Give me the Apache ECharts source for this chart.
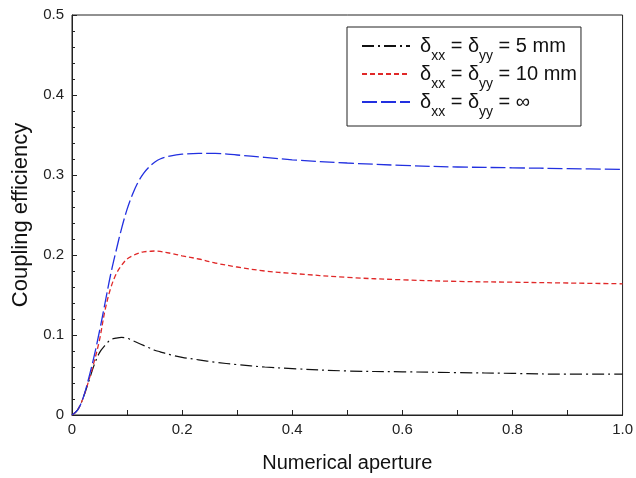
<!DOCTYPE html>
<html>
<head>
<meta charset="utf-8">
<script src="https://cdn.jsdelivr.net/npm/echarts@6/dist/echarts.min.js"></script>
<style>
  html, body { margin: 0; padding: 0; background: #fff; }
  #chart { width: 636px; height: 478px; }
</style>
</head>
<body>
<div id="chart"></div>
<script>
// Numerical aperture sample points shared by all curves
var apertures = [0, 0.01, 0.02, 0.03, 0.04, 0.05, 0.06, 0.07, 0.08, 0.09, 0.10,
                 0.11, 0.12, 0.13, 0.14, 0.15, 0.16, 0.18, 0.20, 0.23, 0.26,
                 0.30, 0.35, 0.40, 0.50, 0.60, 0.70, 0.80, 0.90, 1.00];

// Coupling efficiency for each misalignment tolerance
var eff5mm  = [0, 0.006, 0.021, 0.041, 0.062, 0.078, 0.087, 0.094, 0.096, 0.097, 0.096,
               0.093, 0.090, 0.087, 0.084, 0.081, 0.079, 0.075, 0.072, 0.069, 0.066,
               0.063, 0.060, 0.058, 0.055, 0.054, 0.053, 0.052, 0.051, 0.051];
var eff10mm = [0, 0.006, 0.021, 0.042, 0.066, 0.094, 0.131, 0.158, 0.176, 0.187, 0.195,
               0.199, 0.202, 0.204, 0.2045, 0.205, 0.2045, 0.202, 0.199, 0.195, 0.190,
               0.185, 0.180, 0.177, 0.172, 0.169, 0.167, 0.166, 0.165, 0.164];
var effInf  = [0, 0.006, 0.021, 0.045, 0.073, 0.105, 0.140, 0.175, 0.205, 0.233, 0.257,
               0.276, 0.291, 0.302, 0.310, 0.316, 0.320, 0.324, 0.326, 0.327, 0.327,
               0.325, 0.322, 0.319, 0.315, 0.312, 0.310, 0.309, 0.308, 0.307];

var seriesNames = ['5 mm', '10 mm', 'inf'];
var legendTails = ['5 mm', '10 mm', '\u221E'];

function pairs(xs, ys) {
  return xs.map(function (x, i) { return [x, ys[i]]; });
}

var FONT = 'Liberation Sans, Arial, sans-serif';

var chart = echarts.init(document.getElementById('chart'), null, { renderer: 'canvas' });

chart.setOption({
  animation: false,
  backgroundColor: '#fff',
  grid: {
    left: 72, right: 11, top: 15, bottom: 59,
    show: true, borderColor: '#222', borderWidth: 1
  },
  xAxis: {
    type: 'value', min: 0, max: 1, interval: 0.2,
    name: 'Numerical aperture', nameLocation: 'middle', nameGap: 38,
    nameTextStyle: { fontFamily: FONT, fontSize: 20, color: '#111' },
    axisLine: { lineStyle: { color: '#222', width: 1 } },
    axisTick: { inside: true, length: 5, lineStyle: { color: '#222' } },
    minorTick: { show: true, splitNumber: 2, length: 5, lineStyle: { color: '#222' } },
    splitLine: { show: false },
    axisLabel: {
      fontFamily: FONT, fontSize: 15, color: '#222', margin: 7,
      formatter: function (v) { return v === 0 ? '0' : v.toFixed(1); }
    }
  },
  yAxis: {
    type: 'value', min: 0, max: 0.5, interval: 0.1,
    name: 'Coupling efficiency', nameLocation: 'middle', nameGap: 33,
    nameTextStyle: { fontFamily: FONT, fontSize: 22, color: '#111' },
    axisLine: { show: true, lineStyle: { color: '#222', width: 1 } },
    axisTick: { inside: true, length: 5, lineStyle: { color: '#222' } },
    minorTick: { show: true, splitNumber: 5, length: 3, lineStyle: { color: '#222' } },
    splitLine: { show: false },
    axisLabel: {
      fontFamily: FONT, fontSize: 15, color: '#222', margin: 8,
      formatter: function (v) { return v === 0 ? '0' : v.toFixed(1); }
    }
  },
  legend: {
    orient: 'vertical',
    left: 347, top: 27,
    padding: [2, 4, 7, 14],
    itemGap: -6,
    itemWidth: 48, itemHeight: 14,
    borderColor: '#222', borderWidth: 1,
    itemStyle: { opacity: 0 },
    data: seriesNames,
    formatter: function (name) {
      var tail = legendTails[seriesNames.indexOf(name)];
      return '{f|\u03B4}{s|xx}{d| = \u03B4}{s|yy}{d| = ' + tail + '}';
    },
    textStyle: {
      fontFamily: FONT, color: '#111',
      rich: {
        f: { fontFamily: FONT, fontSize: 20, color: '#111', lineHeight: 20, padding: [0, 0, 0, 5] },
        d: { fontFamily: FONT, fontSize: 20, color: '#111', lineHeight: 20 },
        s: { fontFamily: FONT, fontSize: 14, color: '#111', lineHeight: 8, padding: [20, 0, 0, 0] }
      }
    }
  },
  series: [
    {
      name: seriesNames[0], type: 'line', smooth: 0.35, symbol: 'none',
      data: pairs(apertures, eff5mm),
      lineStyle: { color: '#111', width: 1.2, type: [12, 4, 2, 4] },
      itemStyle: { color: '#111' }
    },
    {
      name: seriesNames[1], type: 'line', smooth: 0.35, symbol: 'none',
      data: pairs(apertures, eff10mm),
      lineStyle: { color: '#e02828', width: 1.3, type: [5, 3] },
      itemStyle: { color: '#e02828' }
    },
    {
      name: seriesNames[2], type: 'line', smooth: 0.35, symbol: 'none',
      data: pairs(apertures, effInf),
      lineStyle: { color: '#2230e0', width: 1.3, type: [15, 4] },
      itemStyle: { color: '#2230e0' }
    }
  ]
});
</script>
</body>
</html>
